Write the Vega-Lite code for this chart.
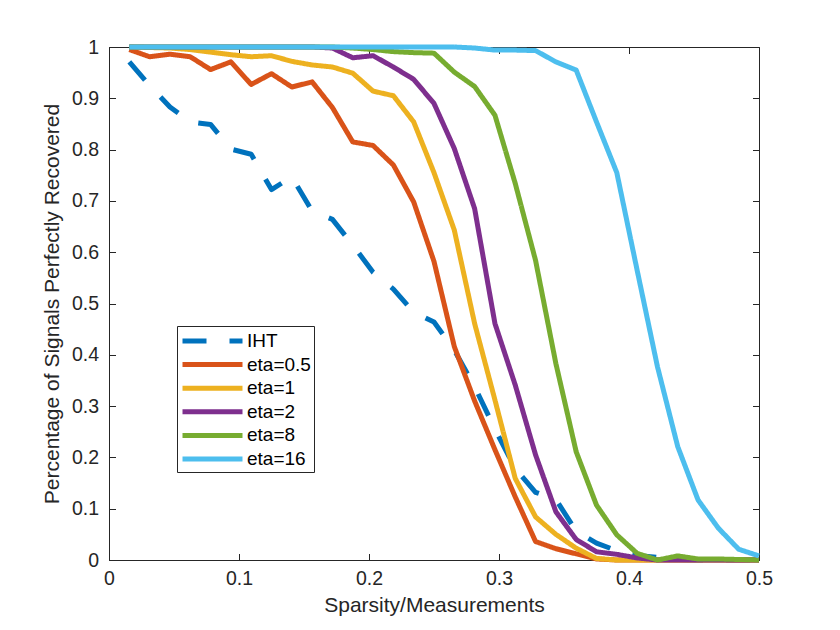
{
  "$schema": "https://vega.github.io/schema/vega-lite/v6.json",
  "description": "Recovery rate versus sparsity/measurements for IHT and several eta values.",
  "width": 650,
  "height": 513,
  "autosize": "none",
  "padding": {"left": 109, "top": 47, "right": 81, "bottom": 70},
  "background": "white",
  "config": {
    "view": {"stroke": "#262626", "strokeWidth": 1},
    "axis": {
      "grid": false,
      "domainColor": "#262626",
      "tickColor": "#262626",
      "labelColor": "#262626",
      "titleColor": "#262626",
      "labelFont": "Liberation Sans",
      "titleFont": "Liberation Sans",
      "labelFontSize": 19.5,
      "titleFontSize": 21,
      "titleFontWeight": "normal",
      "labelFlush": false,
      "labelOverlap": false,
      "tickSize": -6.5,
      "tickWidth": 1,
      "domainWidth": 1
    }
  },
  "data": {
    "values": [
      {"series": "IHT", "x": 0.015625, "y": 0.971}, {"series": "IHT", "x": 0.03125, "y": 0.925}, {"series": "IHT", "x": 0.046875, "y": 0.883}, {"series": "IHT", "x": 0.0625, "y": 0.854},
      {"series": "IHT", "x": 0.078125, "y": 0.849}, {"series": "IHT", "x": 0.09375, "y": 0.801}, {"series": "IHT", "x": 0.109375, "y": 0.791}, {"series": "IHT", "x": 0.125, "y": 0.722},
      {"series": "IHT", "x": 0.140625, "y": 0.747}, {"series": "IHT", "x": 0.15625, "y": 0.68}, {"series": "IHT", "x": 0.171875, "y": 0.664}, {"series": "IHT", "x": 0.1875, "y": 0.614},
      {"series": "IHT", "x": 0.203125, "y": 0.561}, {"series": "IHT", "x": 0.21875, "y": 0.528}, {"series": "IHT", "x": 0.234375, "y": 0.483}, {"series": "IHT", "x": 0.25, "y": 0.464},
      {"series": "IHT", "x": 0.265625, "y": 0.409}, {"series": "IHT", "x": 0.28125, "y": 0.338}, {"series": "IHT", "x": 0.296875, "y": 0.255}, {"series": "IHT", "x": 0.3125, "y": 0.178},
      {"series": "IHT", "x": 0.328125, "y": 0.132}, {"series": "IHT", "x": 0.34375, "y": 0.118}, {"series": "IHT", "x": 0.359375, "y": 0.056}, {"series": "IHT", "x": 0.375, "y": 0.033},
      {"series": "IHT", "x": 0.390625, "y": 0.018}, {"series": "IHT", "x": 0.40625, "y": 0.009}, {"series": "IHT", "x": 0.421875, "y": 0.005}, {"series": "IHT", "x": 0.4375, "y": 0.001},
      {"series": "IHT", "x": 0.453125, "y": 0}, {"series": "IHT", "x": 0.46875, "y": 0}, {"series": "IHT", "x": 0.484375, "y": 0}, {"series": "IHT", "x": 0.5, "y": 0},

      {"series": "eta=0.5", "x": 0.015625, "y": 0.995}, {"series": "eta=0.5", "x": 0.03125, "y": 0.981}, {"series": "eta=0.5", "x": 0.046875, "y": 0.986}, {"series": "eta=0.5", "x": 0.0625, "y": 0.981},
      {"series": "eta=0.5", "x": 0.078125, "y": 0.956}, {"series": "eta=0.5", "x": 0.09375, "y": 0.971}, {"series": "eta=0.5", "x": 0.109375, "y": 0.927}, {"series": "eta=0.5", "x": 0.125, "y": 0.948},
      {"series": "eta=0.5", "x": 0.140625, "y": 0.922}, {"series": "eta=0.5", "x": 0.15625, "y": 0.932}, {"series": "eta=0.5", "x": 0.171875, "y": 0.882}, {"series": "eta=0.5", "x": 0.1875, "y": 0.815},
      {"series": "eta=0.5", "x": 0.203125, "y": 0.808}, {"series": "eta=0.5", "x": 0.21875, "y": 0.77}, {"series": "eta=0.5", "x": 0.234375, "y": 0.698}, {"series": "eta=0.5", "x": 0.25, "y": 0.582},
      {"series": "eta=0.5", "x": 0.265625, "y": 0.416}, {"series": "eta=0.5", "x": 0.28125, "y": 0.31}, {"series": "eta=0.5", "x": 0.296875, "y": 0.215}, {"series": "eta=0.5", "x": 0.3125, "y": 0.123},
      {"series": "eta=0.5", "x": 0.328125, "y": 0.036}, {"series": "eta=0.5", "x": 0.34375, "y": 0.022}, {"series": "eta=0.5", "x": 0.359375, "y": 0.012}, {"series": "eta=0.5", "x": 0.375, "y": 0.002},
      {"series": "eta=0.5", "x": 0.390625, "y": 0}, {"series": "eta=0.5", "x": 0.40625, "y": 0}, {"series": "eta=0.5", "x": 0.421875, "y": 0}, {"series": "eta=0.5", "x": 0.4375, "y": 0},
      {"series": "eta=0.5", "x": 0.453125, "y": 0}, {"series": "eta=0.5", "x": 0.46875, "y": 0}, {"series": "eta=0.5", "x": 0.484375, "y": 0}, {"series": "eta=0.5", "x": 0.5, "y": 0},

      {"series": "eta=1", "x": 0.015625, "y": 1}, {"series": "eta=1", "x": 0.03125, "y": 0.999}, {"series": "eta=1", "x": 0.046875, "y": 0.998}, {"series": "eta=1", "x": 0.0625, "y": 0.995},
      {"series": "eta=1", "x": 0.078125, "y": 0.99}, {"series": "eta=1", "x": 0.09375, "y": 0.985}, {"series": "eta=1", "x": 0.109375, "y": 0.981}, {"series": "eta=1", "x": 0.125, "y": 0.983},
      {"series": "eta=1", "x": 0.140625, "y": 0.972}, {"series": "eta=1", "x": 0.15625, "y": 0.965}, {"series": "eta=1", "x": 0.171875, "y": 0.961}, {"series": "eta=1", "x": 0.1875, "y": 0.949},
      {"series": "eta=1", "x": 0.203125, "y": 0.914}, {"series": "eta=1", "x": 0.21875, "y": 0.905}, {"series": "eta=1", "x": 0.234375, "y": 0.854}, {"series": "eta=1", "x": 0.25, "y": 0.755},
      {"series": "eta=1", "x": 0.265625, "y": 0.643}, {"series": "eta=1", "x": 0.28125, "y": 0.461}, {"series": "eta=1", "x": 0.296875, "y": 0.312}, {"series": "eta=1", "x": 0.3125, "y": 0.159},
      {"series": "eta=1", "x": 0.328125, "y": 0.084}, {"series": "eta=1", "x": 0.34375, "y": 0.05}, {"series": "eta=1", "x": 0.359375, "y": 0.023}, {"series": "eta=1", "x": 0.375, "y": 0.003},
      {"series": "eta=1", "x": 0.390625, "y": 0}, {"series": "eta=1", "x": 0.40625, "y": 0}, {"series": "eta=1", "x": 0.421875, "y": 0}, {"series": "eta=1", "x": 0.4375, "y": 0},
      {"series": "eta=1", "x": 0.453125, "y": 0}, {"series": "eta=1", "x": 0.46875, "y": 0}, {"series": "eta=1", "x": 0.484375, "y": 0}, {"series": "eta=1", "x": 0.5, "y": 0},

      {"series": "eta=2", "x": 0.015625, "y": 1}, {"series": "eta=2", "x": 0.03125, "y": 1}, {"series": "eta=2", "x": 0.046875, "y": 1}, {"series": "eta=2", "x": 0.0625, "y": 1},
      {"series": "eta=2", "x": 0.078125, "y": 1}, {"series": "eta=2", "x": 0.09375, "y": 1}, {"series": "eta=2", "x": 0.109375, "y": 1}, {"series": "eta=2", "x": 0.125, "y": 1},
      {"series": "eta=2", "x": 0.140625, "y": 1}, {"series": "eta=2", "x": 0.15625, "y": 1}, {"series": "eta=2", "x": 0.171875, "y": 0.998}, {"series": "eta=2", "x": 0.1875, "y": 0.979},
      {"series": "eta=2", "x": 0.203125, "y": 0.983}, {"series": "eta=2", "x": 0.21875, "y": 0.961}, {"series": "eta=2", "x": 0.234375, "y": 0.937}, {"series": "eta=2", "x": 0.25, "y": 0.89},
      {"series": "eta=2", "x": 0.265625, "y": 0.802}, {"series": "eta=2", "x": 0.28125, "y": 0.685}, {"series": "eta=2", "x": 0.296875, "y": 0.461}, {"series": "eta=2", "x": 0.3125, "y": 0.341},
      {"series": "eta=2", "x": 0.328125, "y": 0.205}, {"series": "eta=2", "x": 0.34375, "y": 0.094}, {"series": "eta=2", "x": 0.359375, "y": 0.04}, {"series": "eta=2", "x": 0.375, "y": 0.016},
      {"series": "eta=2", "x": 0.390625, "y": 0.011}, {"series": "eta=2", "x": 0.40625, "y": 0.004}, {"series": "eta=2", "x": 0.421875, "y": 0}, {"series": "eta=2", "x": 0.4375, "y": 0},
      {"series": "eta=2", "x": 0.453125, "y": 0}, {"series": "eta=2", "x": 0.46875, "y": 0}, {"series": "eta=2", "x": 0.484375, "y": 0}, {"series": "eta=2", "x": 0.5, "y": 0},

      {"series": "eta=8", "x": 0.015625, "y": 1}, {"series": "eta=8", "x": 0.03125, "y": 1}, {"series": "eta=8", "x": 0.046875, "y": 1}, {"series": "eta=8", "x": 0.0625, "y": 1},
      {"series": "eta=8", "x": 0.078125, "y": 1}, {"series": "eta=8", "x": 0.09375, "y": 1}, {"series": "eta=8", "x": 0.109375, "y": 1}, {"series": "eta=8", "x": 0.125, "y": 1},
      {"series": "eta=8", "x": 0.140625, "y": 1}, {"series": "eta=8", "x": 0.15625, "y": 1}, {"series": "eta=8", "x": 0.171875, "y": 1}, {"series": "eta=8", "x": 0.1875, "y": 0.998},
      {"series": "eta=8", "x": 0.203125, "y": 0.995}, {"series": "eta=8", "x": 0.21875, "y": 0.991}, {"series": "eta=8", "x": 0.234375, "y": 0.989}, {"series": "eta=8", "x": 0.25, "y": 0.988},
      {"series": "eta=8", "x": 0.265625, "y": 0.951}, {"series": "eta=8", "x": 0.28125, "y": 0.923}, {"series": "eta=8", "x": 0.296875, "y": 0.867}, {"series": "eta=8", "x": 0.3125, "y": 0.734},
      {"series": "eta=8", "x": 0.328125, "y": 0.584}, {"series": "eta=8", "x": 0.34375, "y": 0.383}, {"series": "eta=8", "x": 0.359375, "y": 0.211}, {"series": "eta=8", "x": 0.375, "y": 0.107},
      {"series": "eta=8", "x": 0.390625, "y": 0.049}, {"series": "eta=8", "x": 0.40625, "y": 0.013}, {"series": "eta=8", "x": 0.421875, "y": 0}, {"series": "eta=8", "x": 0.4375, "y": 0.008},
      {"series": "eta=8", "x": 0.453125, "y": 0.002}, {"series": "eta=8", "x": 0.46875, "y": 0.002}, {"series": "eta=8", "x": 0.484375, "y": 0.001}, {"series": "eta=8", "x": 0.5, "y": 0},

      {"series": "eta=16", "x": 0.015625, "y": 1}, {"series": "eta=16", "x": 0.03125, "y": 1}, {"series": "eta=16", "x": 0.046875, "y": 1}, {"series": "eta=16", "x": 0.0625, "y": 1},
      {"series": "eta=16", "x": 0.078125, "y": 1}, {"series": "eta=16", "x": 0.09375, "y": 1}, {"series": "eta=16", "x": 0.109375, "y": 1}, {"series": "eta=16", "x": 0.125, "y": 1},
      {"series": "eta=16", "x": 0.140625, "y": 1}, {"series": "eta=16", "x": 0.15625, "y": 1}, {"series": "eta=16", "x": 0.171875, "y": 1}, {"series": "eta=16", "x": 0.1875, "y": 1},
      {"series": "eta=16", "x": 0.203125, "y": 1}, {"series": "eta=16", "x": 0.21875, "y": 1}, {"series": "eta=16", "x": 0.234375, "y": 1}, {"series": "eta=16", "x": 0.25, "y": 1},
      {"series": "eta=16", "x": 0.265625, "y": 1}, {"series": "eta=16", "x": 0.28125, "y": 0.998}, {"series": "eta=16", "x": 0.296875, "y": 0.994}, {"series": "eta=16", "x": 0.3125, "y": 0.994},
      {"series": "eta=16", "x": 0.328125, "y": 0.993}, {"series": "eta=16", "x": 0.34375, "y": 0.971}, {"series": "eta=16", "x": 0.359375, "y": 0.955}, {"series": "eta=16", "x": 0.375, "y": 0.854},
      {"series": "eta=16", "x": 0.390625, "y": 0.755}, {"series": "eta=16", "x": 0.40625, "y": 0.565}, {"series": "eta=16", "x": 0.421875, "y": 0.377}, {"series": "eta=16", "x": 0.4375, "y": 0.221},
      {"series": "eta=16", "x": 0.453125, "y": 0.117}, {"series": "eta=16", "x": 0.46875, "y": 0.062}, {"series": "eta=16", "x": 0.484375, "y": 0.021}, {"series": "eta=16", "x": 0.5, "y": 0.008}
    ]
  },
  "layer": [
    {
      "mark": {"type": "line", "strokeWidth": 5, "strokeJoin": "round", "strokeCap": "butt"},
      "encoding": {
        "x": {
          "field": "x", "type": "quantitative",
          "scale": {"domain": [0, 0.5], "nice": false, "zero": false},
          "axis": {"values": [0, 0.1, 0.2, 0.3, 0.4, 0.5], "format": "~g", "title": "Sparsity/Measurements", "labelPadding": 16, "titlePadding": 6}
        },
        "y": {
          "field": "y", "type": "quantitative",
          "scale": {"domain": [0, 1], "nice": false},
          "axis": {"values": [0, 0.1, 0.2, 0.3, 0.4, 0.5, 0.6, 0.7, 0.8, 0.9, 1], "format": "~g", "title": "Percentage of Signals Perfectly Recovered", "labelPadding": 17, "titlePadding": 9}
        },
        "color": {
          "field": "series", "type": "nominal",
          "scale": {
            "domain": ["IHT", "eta=0.5", "eta=1", "eta=2", "eta=8", "eta=16"],
            "range": ["#0072BD", "#D95319", "#EDB120", "#7E2F8E", "#77AC30", "#4DBEEE"]
          },
          "legend": {
            "title": null, "orient": "none", "legendX": 68, "legendY": 279,
            "symbolType": "M-1,0H5.316", "symbolSize": 361, "symbolStrokeWidth": 5,
            "labelFont": "Liberation Sans", "labelFontSize": 19, "labelColor": "#000000",
            "labelOffset": 43, "labelLimit": 200, "padding": 3, "rowPadding": 1.6,
            "strokeColor": "#262626", "fillColor": "#ffffff"
          }
        },
        "strokeDash": {
          "field": "series", "type": "nominal",
          "scale": {
            "domain": ["IHT", "eta=0.5", "eta=1", "eta=2", "eta=8", "eta=16"],
            "range": [[24, 23], [1, 0], [1, 0], [1, 0], [1, 0], [1, 0]]
          },
          "legend": {
            "title": null, "orient": "none", "legendX": 68, "legendY": 279,
            "symbolType": "M-1,0H5.316", "symbolSize": 361, "symbolStrokeWidth": 5,
            "labelFont": "Liberation Sans", "labelFontSize": 19, "labelColor": "#000000",
            "labelOffset": 43, "labelLimit": 200, "padding": 3, "rowPadding": 1.6,
            "strokeColor": "#262626", "fillColor": "#ffffff"
          }
        }
      }
    },
    {
      "mark": {"type": "line", "opacity": 0},
      "encoding": {
        "x": {
          "field": "x", "type": "quantitative",
          "axis": {"orient": "top", "values": [0, 0.1, 0.2, 0.3, 0.4, 0.5], "labels": false, "domain": false, "title": null}
        },
        "y": {
          "field": "y", "type": "quantitative",
          "axis": {"orient": "right", "values": [0, 0.1, 0.2, 0.3, 0.4, 0.5, 0.6, 0.7, 0.8, 0.9, 1], "labels": false, "domain": false, "title": null}
        }
      }
    }
  ],
  "resolve": {"axis": {"x": "independent", "y": "independent"}}
}
